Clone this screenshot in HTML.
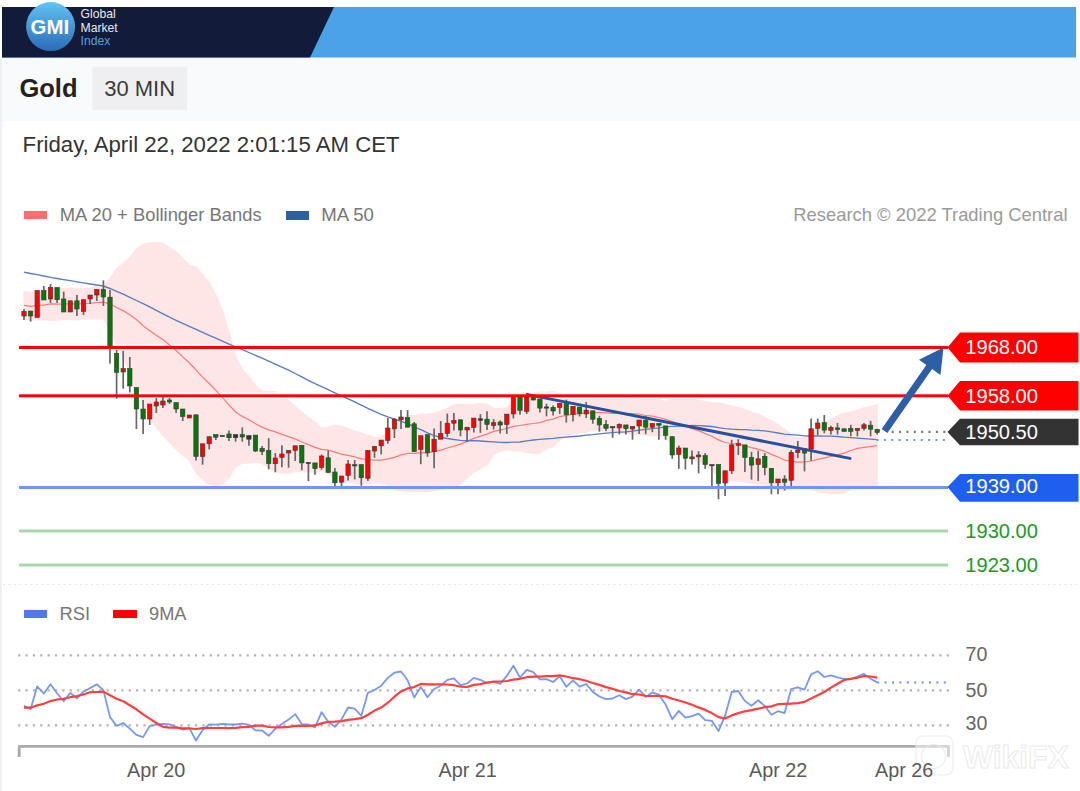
<!DOCTYPE html>
<html><head><meta charset="utf-8">
<style>
*{margin:0;padding:0;box-sizing:border-box}
html,body{width:1080px;height:791px;overflow:hidden;background:#fff;font-family:"Liberation Sans",sans-serif}
.a{position:absolute;white-space:nowrap;line-height:1}
</style></head><body>
<div class="a" style="left:0;top:58px;width:1080px;height:63px;background:#f9fafb"></div>
<div class="a" style="left:0;top:58px;width:1.5px;height:733px;background:#f0f1f5"></div>
<svg class="a" style="left:0;top:0" width="1080" height="791" viewBox="0 0 1080 791">
<defs><linearGradient id="lg" x1="0" y1="0" x2="0" y2="1"><stop offset="0" stop-color="#62c3f2"/><stop offset="1" stop-color="#2b6cb9"/></linearGradient></defs>
<rect x="2" y="7" width="1074" height="50.5" fill="#4aa3e6"/>
<polygon points="2,7 334,7 310,57.5 2,57.5" fill="#121b3a"/>
<circle cx="50.6" cy="26.6" r="24.5" fill="url(#lg)"/>
<text x="49.8" y="33.8" font-family="Liberation Sans" font-weight="bold" font-size="20.4" fill="#fff" text-anchor="middle">GMI</text>
<text x="80.5" y="18" font-family="Liberation Sans" font-size="12.2" fill="#e6e8ee">Global</text>
<text x="80.5" y="31.8" font-family="Liberation Sans" font-size="12.2" fill="#e6e8ee">Market</text>
<text x="80.5" y="45.3" font-family="Liberation Sans" font-size="12.2" fill="#4aa3e6">Index</text>
<rect x="92.3" y="66.8" width="94.9" height="43.3" fill="#efeff1"/>
<path d="M24.0,291.5 L30.6,292.4 L37.2,290.2 L43.8,290.2 L50.5,287.5 L57.1,288.3 L63.7,288.5 L70.3,288.2 L76.9,288.5 L83.5,288.3 L90.1,288.0 L96.8,286.1 L103.4,285.7 L110.0,278.7 L116.6,268.7 L123.2,263.5 L129.8,257.5 L136.4,249.2 L143.1,244.1 L149.7,242.9 L156.3,242.7 L162.9,243.1 L169.5,247.8 L176.1,251.7 L182.7,258.6 L189.3,265.0 L196.0,267.0 L202.6,274.5 L209.2,282.8 L215.8,294.8 L222.4,310.6 L229.0,332.0 L235.6,357.1 L242.3,369.4 L248.9,376.4 L255.5,385.4 L262.1,391.0 L268.7,391.4 L275.3,391.9 L281.9,395.4 L288.6,400.2 L295.2,406.2 L301.8,412.3 L308.4,417.8 L315.0,421.8 L321.6,428.4 L328.2,427.0 L334.9,425.2 L341.5,426.2 L348.1,428.4 L354.7,431.0 L361.3,433.0 L367.9,435.2 L374.5,437.1 L381.2,437.3 L387.8,432.4 L394.4,425.8 L401.0,419.1 L407.6,415.6 L414.2,415.5 L420.8,414.0 L427.5,414.4 L434.1,413.1 L440.7,411.2 L447.3,408.2 L453.9,404.9 L460.5,404.0 L467.1,404.8 L473.8,404.3 L480.4,403.4 L487.0,404.0 L493.6,408.4 L500.2,408.8 L506.8,407.4 L513.4,402.0 L520.0,400.2 L526.7,396.3 L533.3,393.7 L539.9,392.0 L546.5,392.3 L553.1,391.7 L559.7,393.2 L566.3,394.4 L573.0,394.4 L579.6,394.4 L586.2,394.0 L592.8,394.9 L599.4,395.1 L606.0,394.4 L612.6,394.0 L619.3,394.0 L625.9,393.5 L632.5,393.4 L639.1,393.5 L645.7,395.8 L652.3,396.3 L658.9,399.3 L665.6,401.4 L672.2,398.6 L678.8,398.8 L685.4,397.7 L692.0,399.4 L698.6,400.0 L705.2,401.7 L711.9,402.8 L718.5,402.9 L725.1,404.4 L731.7,406.2 L738.3,407.7 L744.9,409.6 L751.5,412.0 L758.2,414.3 L764.8,417.2 L771.4,420.9 L778.0,424.3 L784.6,429.3 L791.2,434.8 L797.8,437.8 L804.5,437.5 L811.1,433.2 L817.7,426.9 L824.3,423.1 L830.9,419.3 L837.5,416.0 L844.1,413.3 L850.8,412.2 L857.4,410.1 L864.0,407.8 L870.6,406.3 L877.2,404.9 L877.2,485.9 L870.6,487.0 L864.0,486.9 L857.4,486.6 L850.8,488.8 L844.1,492.9 L837.5,493.6 L830.9,493.8 L824.3,492.7 L817.7,491.7 L811.1,488.8 L804.5,486.4 L797.8,486.4 L791.2,487.8 L784.6,490.6 L778.0,489.8 L771.4,488.0 L764.8,485.4 L758.2,484.2 L751.5,483.5 L744.9,481.9 L738.3,480.8 L731.7,480.7 L725.1,480.5 L718.5,476.9 L711.9,469.6 L705.2,465.5 L698.6,461.4 L692.0,458.0 L685.4,454.3 L678.8,448.4 L672.2,444.7 L665.6,437.2 L658.9,435.7 L652.3,436.0 L645.7,435.2 L639.1,434.4 L632.5,433.9 L625.9,433.7 L619.3,432.7 L612.6,432.6 L606.0,431.5 L599.4,429.7 L592.8,430.2 L586.2,432.1 L579.6,432.9 L573.0,433.8 L566.3,436.5 L559.7,440.1 L553.1,446.6 L546.5,448.4 L539.9,453.1 L533.3,453.4 L526.7,452.4 L520.0,450.8 L513.4,450.7 L506.8,449.6 L500.2,451.5 L493.6,454.3 L487.0,464.3 L480.4,469.0 L473.8,472.4 L467.1,477.7 L460.5,484.1 L453.9,487.5 L447.3,487.7 L440.7,489.2 L434.1,490.3 L427.5,491.4 L420.8,491.2 L414.2,491.1 L407.6,491.2 L401.0,490.8 L394.4,488.8 L387.8,485.4 L381.2,482.8 L374.5,482.9 L367.9,483.9 L361.3,484.8 L354.7,482.8 L348.1,482.5 L341.5,482.0 L334.9,479.1 L328.2,473.3 L321.6,470.4 L315.0,472.8 L308.4,471.6 L301.8,471.6 L295.2,471.7 L288.6,473.2 L281.9,473.2 L275.3,471.7 L268.7,468.2 L262.1,463.2 L255.5,462.3 L248.9,463.0 L242.3,463.3 L235.6,466.6 L229.0,477.7 L222.4,484.2 L215.8,485.9 L209.2,484.2 L202.6,479.7 L196.0,472.9 L189.3,460.5 L182.7,455.3 L176.1,449.3 L169.5,442.3 L162.9,435.8 L156.3,427.8 L149.7,418.5 L143.1,407.4 L136.4,390.0 L129.8,371.9 L123.2,357.6 L116.6,346.3 L110.0,328.9 L103.4,318.8 L96.8,318.9 L90.1,318.8 L83.5,318.7 L76.9,319.9 L70.3,319.3 L63.7,319.6 L57.1,320.1 L50.5,320.3 L43.8,320.0 L37.2,320.0 L30.6,320.1 L24.0,319.0 Z" fill="#ffe6e6" stroke="#ffe6e6" stroke-width="1.2" stroke-linejoin="round"/>
<rect x="19" y="344.3" width="929" height="6.4" fill="#fff"/>
<rect x="19" y="392.6" width="929" height="6.4" fill="#fff"/>
<path d="M24.0,305.3 L30.6,306.3 L37.2,305.1 L43.8,305.1 L50.5,303.9 L57.1,304.2 L63.7,304.0 L70.3,303.8 L76.9,304.2 L83.5,303.5 L90.1,303.4 L96.8,302.5 L103.4,302.2 L110.0,303.8 L116.6,307.5 L123.2,310.6 L129.8,314.7 L136.4,319.6 L143.1,325.8 L149.7,330.7 L156.3,335.2 L162.9,339.5 L169.5,345.1 L176.1,350.5 L182.7,356.9 L189.3,362.7 L196.0,369.9 L202.6,377.1 L209.2,383.5 L215.8,390.4 L222.4,397.4 L229.0,404.8 L235.6,411.9 L242.3,416.4 L248.9,419.7 L255.5,423.8 L262.1,427.1 L268.7,429.8 L275.3,431.8 L281.9,434.3 L288.6,436.7 L295.2,438.9 L301.8,442.0 L308.4,444.7 L315.0,447.3 L321.6,449.4 L328.2,450.2 L334.9,452.1 L341.5,454.1 L348.1,455.4 L354.7,456.9 L361.3,458.9 L367.9,459.5 L374.5,460.0 L381.2,460.0 L387.8,458.9 L394.4,457.3 L401.0,454.9 L407.6,453.4 L414.2,453.3 L420.8,452.6 L427.5,452.9 L434.1,451.7 L440.7,450.2 L447.3,448.0 L453.9,446.2 L460.5,444.1 L467.1,441.3 L473.8,438.4 L480.4,436.2 L487.0,434.1 L493.6,431.4 L500.2,430.1 L506.8,428.5 L513.4,426.4 L520.0,425.5 L526.7,424.4 L533.3,423.5 L539.9,422.6 L546.5,420.4 L553.1,419.1 L559.7,416.7 L566.3,415.5 L573.0,414.1 L579.6,413.6 L586.2,413.1 L592.8,412.6 L599.4,412.4 L606.0,412.9 L612.6,413.3 L619.3,413.3 L625.9,413.6 L632.5,413.7 L639.1,414.0 L645.7,415.5 L652.3,416.1 L658.9,417.5 L665.6,419.3 L672.2,421.6 L678.8,423.6 L685.4,426.0 L692.0,428.7 L698.6,430.7 L705.2,433.6 L711.9,436.2 L718.5,439.9 L725.1,442.5 L731.7,443.5 L738.3,444.2 L744.9,445.7 L751.5,447.7 L758.2,449.2 L764.8,451.3 L771.4,454.4 L778.0,457.0 L784.6,460.0 L791.2,461.3 L797.8,462.1 L804.5,462.0 L811.1,461.0 L817.7,459.3 L824.3,457.9 L830.9,456.5 L837.5,454.8 L844.1,453.1 L850.8,450.5 L857.4,448.4 L864.0,447.3 L870.6,446.6 L877.2,445.4" fill="none" stroke="#ff7a7a" stroke-width="1.25"/>
<path d="M24.0,272.2 L30.6,273.5 L37.2,274.7 L43.8,276.0 L50.5,277.3 L57.1,278.5 L63.7,279.6 L70.3,280.7 L76.9,281.8 L83.5,282.9 L90.1,284.0 L96.8,285.0 L103.4,286.0 L110.0,288.5 L116.6,291.4 L123.2,294.2 L129.8,297.3 L136.4,300.5 L143.1,303.7 L149.7,306.8 L156.3,310.3 L162.9,313.8 L169.5,317.2 L176.1,320.3 L182.7,323.3 L189.3,326.3 L196.0,329.4 L202.6,332.3 L209.2,335.3 L215.8,338.2 L222.4,341.1 L229.0,344.1 L235.6,346.9 L242.3,349.7 L248.9,352.5 L255.5,355.3 L262.1,358.2 L268.7,361.2 L275.3,364.2 L281.9,367.2 L288.6,370.2 L295.2,373.5 L301.8,376.9 L308.4,380.3 L315.0,383.6 L321.6,386.7 L328.2,389.7 L334.9,392.8 L341.5,395.8 L348.1,398.8 L354.7,401.9 L361.3,405.2 L367.9,408.4 L374.5,411.3 L381.2,414.3 L387.8,416.9 L394.4,419.1 L401.0,421.4 L407.6,423.7 L414.2,426.8 L420.8,429.6 L427.5,432.9 L434.1,435.7 L440.7,437.4 L447.3,438.5 L453.9,439.5 L460.5,440.4 L467.1,440.7 L473.8,440.7 L480.4,441.0 L487.0,441.5 L493.6,441.9 L500.2,442.4 L506.8,442.5 L513.4,442.1 L520.0,442.0 L526.7,440.8 L533.3,440.0 L539.9,439.4 L546.5,438.8 L553.1,438.3 L559.7,437.6 L566.3,437.1 L573.0,436.5 L579.6,436.0 L586.2,435.2 L592.8,434.6 L599.4,433.8 L606.0,433.2 L612.6,432.7 L619.3,432.1 L625.9,431.8 L632.5,431.1 L639.1,430.2 L645.7,429.4 L652.3,428.7 L658.9,427.8 L665.6,426.8 L672.2,426.4 L678.8,426.1 L685.4,425.9 L692.0,425.5 L698.6,425.6 L705.2,426.0 L711.9,426.5 L718.5,427.6 L725.1,428.6 L731.7,429.2 L738.3,429.5 L744.9,429.6 L751.5,430.2 L758.2,430.3 L764.8,430.9 L771.4,431.9 L778.0,433.0 L784.6,434.2 L791.2,434.7 L797.8,435.1 L804.5,435.8 L811.1,436.0 L817.7,436.0 L824.3,436.1 L830.9,436.2 L837.5,436.5 L844.1,437.2 L850.8,437.6 L857.4,438.2 L864.0,438.7 L870.6,439.1 L877.2,439.6" fill="none" stroke="#5a7cc0" stroke-width="1.35"/>
<line x1="24.0" y1="308.9" x2="24.0" y2="320.0" stroke="#666" stroke-width="1.7"/>
<rect x="21.8" y="311.4" width="4.4" height="4.6" fill="#ff0000" stroke="#3a3a3a" stroke-width="0.6"/>
<line x1="30.6" y1="311.0" x2="30.6" y2="321.6" stroke="#666" stroke-width="1.7"/>
<rect x="28.4" y="311.0" width="4.4" height="5.0" fill="#0a760a" stroke="#3a3a3a" stroke-width="0.6"/>
<line x1="37.2" y1="290.6" x2="37.2" y2="317.5" stroke="#666" stroke-width="1.7"/>
<rect x="35.0" y="290.6" width="4.4" height="26.9" fill="#ff0000" stroke="#3a3a3a" stroke-width="0.6"/>
<line x1="43.8" y1="286.0" x2="43.8" y2="300.0" stroke="#666" stroke-width="1.7"/>
<rect x="41.6" y="290.6" width="4.4" height="9.4" fill="#0a760a" stroke="#3a3a3a" stroke-width="0.6"/>
<line x1="50.5" y1="284.0" x2="50.5" y2="303.0" stroke="#666" stroke-width="1.7"/>
<rect x="48.3" y="287.5" width="4.4" height="11.5" fill="#ff0000" stroke="#3a3a3a" stroke-width="0.6"/>
<line x1="57.1" y1="287.5" x2="57.1" y2="303.0" stroke="#666" stroke-width="1.7"/>
<rect x="54.9" y="287.5" width="4.4" height="12.2" fill="#0a760a" stroke="#3a3a3a" stroke-width="0.6"/>
<line x1="63.7" y1="291.6" x2="63.7" y2="312.0" stroke="#666" stroke-width="1.7"/>
<rect x="61.5" y="299.0" width="4.4" height="13.0" fill="#0a760a" stroke="#3a3a3a" stroke-width="0.6"/>
<line x1="70.3" y1="300.8" x2="70.3" y2="312.0" stroke="#666" stroke-width="1.7"/>
<rect x="68.1" y="300.8" width="4.4" height="11.2" fill="#ff0000" stroke="#3a3a3a" stroke-width="0.6"/>
<line x1="76.9" y1="295.0" x2="76.9" y2="316.0" stroke="#666" stroke-width="1.7"/>
<rect x="74.7" y="300.8" width="4.4" height="8.2" fill="#0a760a" stroke="#3a3a3a" stroke-width="0.6"/>
<line x1="83.5" y1="299.7" x2="83.5" y2="315.0" stroke="#666" stroke-width="1.7"/>
<rect x="81.3" y="299.7" width="4.4" height="11.7" fill="#ff0000" stroke="#3a3a3a" stroke-width="0.6"/>
<line x1="90.1" y1="295.0" x2="90.1" y2="304.0" stroke="#666" stroke-width="1.7"/>
<rect x="87.9" y="295.0" width="4.4" height="4.0" fill="#ff0000" stroke="#3a3a3a" stroke-width="0.6"/>
<line x1="96.8" y1="289.5" x2="96.8" y2="301.0" stroke="#666" stroke-width="1.7"/>
<rect x="94.6" y="289.5" width="4.4" height="5.5" fill="#ff0000" stroke="#3a3a3a" stroke-width="0.6"/>
<line x1="103.4" y1="280.4" x2="103.4" y2="306.0" stroke="#666" stroke-width="1.7"/>
<rect x="101.2" y="289.5" width="4.4" height="7.5" fill="#0a760a" stroke="#3a3a3a" stroke-width="0.6"/>
<line x1="110.0" y1="290.0" x2="110.0" y2="363.4" stroke="#666" stroke-width="1.7"/>
<rect x="107.8" y="297.2" width="4.4" height="49.8" fill="#0a760a" stroke="#3a3a3a" stroke-width="0.6"/>
<line x1="116.6" y1="350.0" x2="116.6" y2="398.8" stroke="#666" stroke-width="1.7"/>
<rect x="114.4" y="353.3" width="4.4" height="19.0" fill="#0a760a" stroke="#3a3a3a" stroke-width="0.6"/>
<line x1="123.2" y1="350.8" x2="123.2" y2="388.7" stroke="#666" stroke-width="1.7"/>
<rect x="121.0" y="368.5" width="4.4" height="3.5" fill="#ff0000" stroke="#3a3a3a" stroke-width="0.6"/>
<line x1="129.8" y1="357.0" x2="129.8" y2="392.5" stroke="#666" stroke-width="1.7"/>
<rect x="127.6" y="368.5" width="4.4" height="17.5" fill="#0a760a" stroke="#3a3a3a" stroke-width="0.6"/>
<line x1="136.4" y1="387.5" x2="136.4" y2="429.0" stroke="#666" stroke-width="1.7"/>
<rect x="134.2" y="387.5" width="4.4" height="21.5" fill="#0a760a" stroke="#3a3a3a" stroke-width="0.6"/>
<line x1="143.1" y1="400.0" x2="143.1" y2="434.0" stroke="#666" stroke-width="1.7"/>
<rect x="140.9" y="409.0" width="4.4" height="10.0" fill="#0a760a" stroke="#3a3a3a" stroke-width="0.6"/>
<line x1="149.7" y1="404.0" x2="149.7" y2="425.0" stroke="#666" stroke-width="1.7"/>
<rect x="147.5" y="404.0" width="4.4" height="15.0" fill="#ff0000" stroke="#3a3a3a" stroke-width="0.6"/>
<line x1="156.3" y1="398.0" x2="156.3" y2="413.0" stroke="#666" stroke-width="1.7"/>
<rect x="154.1" y="402.0" width="4.4" height="4.0" fill="#ff0000" stroke="#3a3a3a" stroke-width="0.6"/>
<line x1="162.9" y1="397.0" x2="162.9" y2="408.0" stroke="#666" stroke-width="1.7"/>
<rect x="160.7" y="401.0" width="4.4" height="4.0" fill="#ff0000" stroke="#3a3a3a" stroke-width="0.6"/>
<line x1="169.5" y1="398.0" x2="169.5" y2="404.0" stroke="#666" stroke-width="1.7"/>
<rect x="167.3" y="400.0" width="4.4" height="2.0" fill="#0a760a" stroke="#3a3a3a" stroke-width="0.6"/>
<line x1="176.1" y1="402.6" x2="176.1" y2="413.0" stroke="#666" stroke-width="1.7"/>
<rect x="173.9" y="402.6" width="4.4" height="6.4" fill="#0a760a" stroke="#3a3a3a" stroke-width="0.6"/>
<line x1="182.7" y1="409.0" x2="182.7" y2="421.0" stroke="#666" stroke-width="1.7"/>
<rect x="180.5" y="409.0" width="4.4" height="7.5" fill="#0a760a" stroke="#3a3a3a" stroke-width="0.6"/>
<line x1="189.3" y1="415.0" x2="189.3" y2="418.0" stroke="#666" stroke-width="1.7"/>
<rect x="187.2" y="415.0" width="4.4" height="3.0" fill="#ff0000" stroke="#3a3a3a" stroke-width="0.6"/>
<line x1="196.0" y1="414.8" x2="196.0" y2="460.6" stroke="#666" stroke-width="1.7"/>
<rect x="193.8" y="414.8" width="4.4" height="41.7" fill="#0a760a" stroke="#3a3a3a" stroke-width="0.6"/>
<line x1="202.6" y1="443.8" x2="202.6" y2="464.7" stroke="#666" stroke-width="1.7"/>
<rect x="200.4" y="443.8" width="4.4" height="12.7" fill="#ff0000" stroke="#3a3a3a" stroke-width="0.6"/>
<line x1="209.2" y1="436.7" x2="209.2" y2="449.4" stroke="#666" stroke-width="1.7"/>
<rect x="207.0" y="436.7" width="4.4" height="7.1" fill="#ff0000" stroke="#3a3a3a" stroke-width="0.6"/>
<line x1="215.8" y1="434.6" x2="215.8" y2="440.0" stroke="#666" stroke-width="1.7"/>
<rect x="213.6" y="434.6" width="4.4" height="2.6" fill="#0a760a" stroke="#3a3a3a" stroke-width="0.6"/>
<line x1="222.4" y1="435.4" x2="222.4" y2="436.4" stroke="#666" stroke-width="1.7"/>
<rect x="220.2" y="435.4" width="4.4" height="1.2" fill="#333333" stroke="#3a3a3a" stroke-width="0.6"/>
<line x1="229.0" y1="430.4" x2="229.0" y2="441.0" stroke="#666" stroke-width="1.7"/>
<rect x="226.8" y="434.0" width="4.4" height="3.7" fill="#0a760a" stroke="#3a3a3a" stroke-width="0.6"/>
<line x1="235.6" y1="434.6" x2="235.6" y2="441.7" stroke="#666" stroke-width="1.7"/>
<rect x="233.4" y="434.6" width="4.4" height="3.1" fill="#333333" stroke="#3a3a3a" stroke-width="0.6"/>
<line x1="242.3" y1="427.3" x2="242.3" y2="441.7" stroke="#666" stroke-width="1.7"/>
<rect x="240.1" y="434.6" width="4.4" height="2.4" fill="#0a760a" stroke="#3a3a3a" stroke-width="0.6"/>
<line x1="248.9" y1="435.6" x2="248.9" y2="445.8" stroke="#666" stroke-width="1.7"/>
<rect x="246.7" y="435.6" width="4.4" height="3.6" fill="#333333" stroke="#3a3a3a" stroke-width="0.6"/>
<line x1="255.5" y1="435.1" x2="255.5" y2="452.0" stroke="#666" stroke-width="1.7"/>
<rect x="253.3" y="435.1" width="4.4" height="15.9" fill="#0a760a" stroke="#3a3a3a" stroke-width="0.6"/>
<line x1="262.1" y1="446.0" x2="262.1" y2="455.0" stroke="#666" stroke-width="1.7"/>
<rect x="259.9" y="448.4" width="4.4" height="3.0" fill="#0a760a" stroke="#3a3a3a" stroke-width="0.6"/>
<line x1="268.7" y1="438.2" x2="268.7" y2="469.3" stroke="#666" stroke-width="1.7"/>
<rect x="266.5" y="450.4" width="4.4" height="13.3" fill="#0a760a" stroke="#3a3a3a" stroke-width="0.6"/>
<line x1="275.3" y1="453.0" x2="275.3" y2="472.3" stroke="#666" stroke-width="1.7"/>
<rect x="273.1" y="458.0" width="4.4" height="5.7" fill="#ff0000" stroke="#3a3a3a" stroke-width="0.6"/>
<line x1="281.9" y1="445.3" x2="281.9" y2="467.2" stroke="#666" stroke-width="1.7"/>
<rect x="279.7" y="454.0" width="4.4" height="3.5" fill="#ff0000" stroke="#3a3a3a" stroke-width="0.6"/>
<line x1="288.6" y1="450.4" x2="288.6" y2="467.7" stroke="#666" stroke-width="1.7"/>
<rect x="286.4" y="450.4" width="4.4" height="2.6" fill="#ff0000" stroke="#3a3a3a" stroke-width="0.6"/>
<line x1="295.2" y1="445.8" x2="295.2" y2="461.0" stroke="#666" stroke-width="1.7"/>
<rect x="293.0" y="445.8" width="4.4" height="4.6" fill="#ff0000" stroke="#3a3a3a" stroke-width="0.6"/>
<line x1="301.8" y1="445.3" x2="301.8" y2="470.3" stroke="#666" stroke-width="1.7"/>
<rect x="299.6" y="445.3" width="4.4" height="17.6" fill="#0a760a" stroke="#3a3a3a" stroke-width="0.6"/>
<line x1="308.4" y1="462.4" x2="308.4" y2="481.1" stroke="#666" stroke-width="1.7"/>
<rect x="306.2" y="462.4" width="4.4" height="1.2" fill="#333333" stroke="#3a3a3a" stroke-width="0.6"/>
<line x1="315.0" y1="462.9" x2="315.0" y2="474.8" stroke="#666" stroke-width="1.7"/>
<rect x="312.8" y="462.9" width="4.4" height="5.7" fill="#0a760a" stroke="#3a3a3a" stroke-width="0.6"/>
<line x1="321.6" y1="454.4" x2="321.6" y2="469.7" stroke="#666" stroke-width="1.7"/>
<rect x="319.4" y="456.0" width="4.4" height="11.5" fill="#ff0000" stroke="#3a3a3a" stroke-width="0.6"/>
<line x1="328.2" y1="450.4" x2="328.2" y2="472.6" stroke="#666" stroke-width="1.7"/>
<rect x="326.0" y="457.8" width="4.4" height="14.8" fill="#0a760a" stroke="#3a3a3a" stroke-width="0.6"/>
<line x1="334.9" y1="468.0" x2="334.9" y2="486.2" stroke="#666" stroke-width="1.7"/>
<rect x="332.7" y="472.0" width="4.4" height="10.8" fill="#0a760a" stroke="#3a3a3a" stroke-width="0.6"/>
<line x1="341.5" y1="476.0" x2="341.5" y2="488.5" stroke="#666" stroke-width="1.7"/>
<rect x="339.3" y="476.0" width="4.4" height="6.2" fill="#ff0000" stroke="#3a3a3a" stroke-width="0.6"/>
<line x1="348.1" y1="460.0" x2="348.1" y2="480.5" stroke="#666" stroke-width="1.7"/>
<rect x="345.9" y="464.0" width="4.4" height="11.4" fill="#ff0000" stroke="#3a3a3a" stroke-width="0.6"/>
<line x1="354.7" y1="460.0" x2="354.7" y2="479.4" stroke="#666" stroke-width="1.7"/>
<rect x="352.5" y="464.7" width="4.4" height="1.2" fill="#333333" stroke="#3a3a3a" stroke-width="0.6"/>
<line x1="361.3" y1="464.6" x2="361.3" y2="485.7" stroke="#666" stroke-width="1.7"/>
<rect x="359.1" y="464.6" width="4.4" height="13.1" fill="#0a760a" stroke="#3a3a3a" stroke-width="0.6"/>
<line x1="367.9" y1="450.4" x2="367.9" y2="481.0" stroke="#666" stroke-width="1.7"/>
<rect x="365.7" y="450.4" width="4.4" height="27.9" fill="#ff0000" stroke="#3a3a3a" stroke-width="0.6"/>
<line x1="374.5" y1="446.4" x2="374.5" y2="457.8" stroke="#666" stroke-width="1.7"/>
<rect x="372.3" y="446.4" width="4.4" height="4.6" fill="#ff0000" stroke="#3a3a3a" stroke-width="0.6"/>
<line x1="381.2" y1="440.1" x2="381.2" y2="454.4" stroke="#666" stroke-width="1.7"/>
<rect x="379.0" y="440.1" width="4.4" height="5.7" fill="#ff0000" stroke="#3a3a3a" stroke-width="0.6"/>
<line x1="387.8" y1="418.0" x2="387.8" y2="443.7" stroke="#666" stroke-width="1.7"/>
<rect x="385.6" y="428.0" width="4.4" height="12.5" fill="#ff0000" stroke="#3a3a3a" stroke-width="0.6"/>
<line x1="394.4" y1="418.0" x2="394.4" y2="438.0" stroke="#666" stroke-width="1.7"/>
<rect x="392.2" y="419.2" width="4.4" height="9.7" fill="#ff0000" stroke="#3a3a3a" stroke-width="0.6"/>
<line x1="401.0" y1="410.1" x2="401.0" y2="428.9" stroke="#666" stroke-width="1.7"/>
<rect x="398.8" y="417.0" width="4.4" height="2.8" fill="#ff0000" stroke="#3a3a3a" stroke-width="0.6"/>
<line x1="407.6" y1="410.1" x2="407.6" y2="427.2" stroke="#666" stroke-width="1.7"/>
<rect x="405.4" y="417.5" width="4.4" height="9.7" fill="#0a760a" stroke="#3a3a3a" stroke-width="0.6"/>
<line x1="414.2" y1="422.0" x2="414.2" y2="451.7" stroke="#666" stroke-width="1.7"/>
<rect x="412.0" y="423.8" width="4.4" height="27.9" fill="#0a760a" stroke="#3a3a3a" stroke-width="0.6"/>
<line x1="420.8" y1="435.7" x2="420.8" y2="464.2" stroke="#666" stroke-width="1.7"/>
<rect x="418.6" y="435.7" width="4.4" height="13.7" fill="#ff0000" stroke="#3a3a3a" stroke-width="0.6"/>
<line x1="427.5" y1="434.6" x2="427.5" y2="456.8" stroke="#666" stroke-width="1.7"/>
<rect x="425.3" y="434.6" width="4.4" height="18.2" fill="#0a760a" stroke="#3a3a3a" stroke-width="0.6"/>
<line x1="434.1" y1="428.4" x2="434.1" y2="468.2" stroke="#666" stroke-width="1.7"/>
<rect x="431.9" y="439.2" width="4.4" height="12.5" fill="#ff0000" stroke="#3a3a3a" stroke-width="0.6"/>
<line x1="440.7" y1="421.0" x2="440.7" y2="439.2" stroke="#666" stroke-width="1.7"/>
<rect x="438.5" y="433.5" width="4.4" height="5.7" fill="#ff0000" stroke="#3a3a3a" stroke-width="0.6"/>
<line x1="447.3" y1="413.6" x2="447.3" y2="436.9" stroke="#666" stroke-width="1.7"/>
<rect x="445.1" y="423.2" width="4.4" height="10.3" fill="#ff0000" stroke="#3a3a3a" stroke-width="0.6"/>
<line x1="453.9" y1="413.0" x2="453.9" y2="430.6" stroke="#666" stroke-width="1.7"/>
<rect x="451.7" y="420.4" width="4.4" height="2.8" fill="#ff0000" stroke="#3a3a3a" stroke-width="0.6"/>
<line x1="460.5" y1="419.8" x2="460.5" y2="436.3" stroke="#666" stroke-width="1.7"/>
<rect x="458.3" y="419.8" width="4.4" height="10.2" fill="#0a760a" stroke="#3a3a3a" stroke-width="0.6"/>
<line x1="467.1" y1="427.2" x2="467.1" y2="442.0" stroke="#666" stroke-width="1.7"/>
<rect x="464.9" y="427.2" width="4.4" height="2.8" fill="#ff0000" stroke="#3a3a3a" stroke-width="0.6"/>
<line x1="473.8" y1="418.1" x2="473.8" y2="432.6" stroke="#666" stroke-width="1.7"/>
<rect x="471.6" y="418.1" width="4.4" height="9.4" fill="#ff0000" stroke="#3a3a3a" stroke-width="0.6"/>
<line x1="480.4" y1="414.1" x2="480.4" y2="432.9" stroke="#666" stroke-width="1.7"/>
<rect x="478.2" y="418.7" width="4.4" height="1.7" fill="#333333" stroke="#3a3a3a" stroke-width="0.6"/>
<line x1="487.0" y1="411.3" x2="487.0" y2="430.0" stroke="#666" stroke-width="1.7"/>
<rect x="484.8" y="419.2" width="4.4" height="5.2" fill="#0a760a" stroke="#3a3a3a" stroke-width="0.6"/>
<line x1="493.6" y1="419.2" x2="493.6" y2="429.5" stroke="#666" stroke-width="1.7"/>
<rect x="491.4" y="422.7" width="4.4" height="2.8" fill="#ff0000" stroke="#3a3a3a" stroke-width="0.6"/>
<line x1="500.2" y1="420.4" x2="500.2" y2="433.5" stroke="#666" stroke-width="1.7"/>
<rect x="498.0" y="422.0" width="4.4" height="3.0" fill="#0a760a" stroke="#3a3a3a" stroke-width="0.6"/>
<line x1="506.8" y1="414.1" x2="506.8" y2="434.0" stroke="#666" stroke-width="1.7"/>
<rect x="504.6" y="414.1" width="4.4" height="10.3" fill="#ff0000" stroke="#3a3a3a" stroke-width="0.6"/>
<line x1="513.4" y1="396.0" x2="513.4" y2="418.5" stroke="#666" stroke-width="1.7"/>
<rect x="511.2" y="397.3" width="4.4" height="16.7" fill="#ff0000" stroke="#3a3a3a" stroke-width="0.6"/>
<line x1="520.0" y1="396.0" x2="520.0" y2="414.8" stroke="#666" stroke-width="1.7"/>
<rect x="517.8" y="397.0" width="4.4" height="13.4" fill="#0a760a" stroke="#3a3a3a" stroke-width="0.6"/>
<line x1="526.7" y1="393.0" x2="526.7" y2="414.0" stroke="#666" stroke-width="1.7"/>
<rect x="524.5" y="397.3" width="4.4" height="14.2" fill="#ff0000" stroke="#3a3a3a" stroke-width="0.6"/>
<line x1="533.3" y1="396.0" x2="533.3" y2="400.4" stroke="#666" stroke-width="1.7"/>
<rect x="531.1" y="397.0" width="4.4" height="3.0" fill="#0a760a" stroke="#3a3a3a" stroke-width="0.6"/>
<line x1="539.9" y1="398.9" x2="539.9" y2="412.6" stroke="#666" stroke-width="1.7"/>
<rect x="537.7" y="398.9" width="4.4" height="9.2" fill="#0a760a" stroke="#3a3a3a" stroke-width="0.6"/>
<line x1="546.5" y1="403.7" x2="546.5" y2="416.3" stroke="#666" stroke-width="1.7"/>
<rect x="544.3" y="406.9" width="4.4" height="1.2" fill="#333333" stroke="#3a3a3a" stroke-width="0.6"/>
<line x1="553.1" y1="405.6" x2="553.1" y2="415.6" stroke="#666" stroke-width="1.7"/>
<rect x="550.9" y="407.4" width="4.4" height="3.6" fill="#0a760a" stroke="#3a3a3a" stroke-width="0.6"/>
<line x1="559.7" y1="403.3" x2="559.7" y2="414.0" stroke="#666" stroke-width="1.7"/>
<rect x="557.5" y="403.3" width="4.4" height="4.1" fill="#ff0000" stroke="#3a3a3a" stroke-width="0.6"/>
<line x1="566.3" y1="399.6" x2="566.3" y2="422.6" stroke="#666" stroke-width="1.7"/>
<rect x="564.1" y="403.7" width="4.4" height="11.1" fill="#0a760a" stroke="#3a3a3a" stroke-width="0.6"/>
<line x1="573.0" y1="406.3" x2="573.0" y2="421.5" stroke="#666" stroke-width="1.7"/>
<rect x="570.8" y="406.3" width="4.4" height="8.2" fill="#ff0000" stroke="#3a3a3a" stroke-width="0.6"/>
<line x1="579.6" y1="407.0" x2="579.6" y2="416.5" stroke="#666" stroke-width="1.7"/>
<rect x="577.4" y="407.0" width="4.4" height="6.5" fill="#0a760a" stroke="#3a3a3a" stroke-width="0.6"/>
<line x1="586.2" y1="402.1" x2="586.2" y2="418.0" stroke="#666" stroke-width="1.7"/>
<rect x="584.0" y="410.1" width="4.4" height="3.8" fill="#ff0000" stroke="#3a3a3a" stroke-width="0.6"/>
<line x1="592.8" y1="410.8" x2="592.8" y2="423.7" stroke="#666" stroke-width="1.7"/>
<rect x="590.6" y="410.8" width="4.4" height="8.4" fill="#0a760a" stroke="#3a3a3a" stroke-width="0.6"/>
<line x1="599.4" y1="415.8" x2="599.4" y2="431.7" stroke="#666" stroke-width="1.7"/>
<rect x="597.2" y="418.4" width="4.4" height="6.5" fill="#0a760a" stroke="#3a3a3a" stroke-width="0.6"/>
<line x1="606.0" y1="420.0" x2="606.0" y2="431.0" stroke="#666" stroke-width="1.7"/>
<rect x="603.8" y="424.5" width="4.4" height="3.8" fill="#0a760a" stroke="#3a3a3a" stroke-width="0.6"/>
<line x1="612.6" y1="426.6" x2="612.6" y2="437.8" stroke="#666" stroke-width="1.7"/>
<rect x="610.4" y="426.6" width="4.4" height="1.2" fill="#333333" stroke="#3a3a3a" stroke-width="0.6"/>
<line x1="619.3" y1="423.4" x2="619.3" y2="434.4" stroke="#666" stroke-width="1.7"/>
<rect x="617.1" y="424.5" width="4.4" height="3.4" fill="#ff0000" stroke="#3a3a3a" stroke-width="0.6"/>
<line x1="625.9" y1="424.9" x2="625.9" y2="434.4" stroke="#666" stroke-width="1.7"/>
<rect x="623.7" y="424.9" width="4.4" height="3.8" fill="#0a760a" stroke="#3a3a3a" stroke-width="0.6"/>
<line x1="632.5" y1="426.4" x2="632.5" y2="439.7" stroke="#666" stroke-width="1.7"/>
<rect x="630.3" y="426.4" width="4.4" height="2.6" fill="#ff0000" stroke="#3a3a3a" stroke-width="0.6"/>
<line x1="639.1" y1="420.0" x2="639.1" y2="434.0" stroke="#666" stroke-width="1.7"/>
<rect x="636.9" y="420.0" width="4.4" height="6.0" fill="#ff0000" stroke="#3a3a3a" stroke-width="0.6"/>
<line x1="645.7" y1="415.8" x2="645.7" y2="434.2" stroke="#666" stroke-width="1.7"/>
<rect x="643.5" y="420.2" width="4.4" height="7.0" fill="#0a760a" stroke="#3a3a3a" stroke-width="0.6"/>
<line x1="652.3" y1="423.4" x2="652.3" y2="432.2" stroke="#666" stroke-width="1.7"/>
<rect x="650.1" y="423.4" width="4.4" height="3.8" fill="#ff0000" stroke="#3a3a3a" stroke-width="0.6"/>
<line x1="658.9" y1="423.4" x2="658.9" y2="439.8" stroke="#666" stroke-width="1.7"/>
<rect x="656.7" y="423.4" width="4.4" height="1.9" fill="#0a760a" stroke="#3a3a3a" stroke-width="0.6"/>
<line x1="665.6" y1="425.9" x2="665.6" y2="439.8" stroke="#666" stroke-width="1.7"/>
<rect x="663.4" y="425.9" width="4.4" height="9.5" fill="#0a760a" stroke="#3a3a3a" stroke-width="0.6"/>
<line x1="672.2" y1="436.7" x2="672.2" y2="458.8" stroke="#666" stroke-width="1.7"/>
<rect x="670.0" y="436.7" width="4.4" height="18.3" fill="#0a760a" stroke="#3a3a3a" stroke-width="0.6"/>
<line x1="678.8" y1="445.5" x2="678.8" y2="468.9" stroke="#666" stroke-width="1.7"/>
<rect x="676.6" y="448.0" width="4.4" height="6.4" fill="#ff0000" stroke="#3a3a3a" stroke-width="0.6"/>
<line x1="685.4" y1="448.0" x2="685.4" y2="469.5" stroke="#666" stroke-width="1.7"/>
<rect x="683.2" y="448.0" width="4.4" height="10.2" fill="#0a760a" stroke="#3a3a3a" stroke-width="0.6"/>
<line x1="692.0" y1="450.6" x2="692.0" y2="464.5" stroke="#666" stroke-width="1.7"/>
<rect x="689.8" y="456.9" width="4.4" height="1.9" fill="#ff0000" stroke="#3a3a3a" stroke-width="0.6"/>
<line x1="698.6" y1="451.2" x2="698.6" y2="473.3" stroke="#666" stroke-width="1.7"/>
<rect x="696.4" y="455.0" width="4.4" height="1.9" fill="#ff0000" stroke="#3a3a3a" stroke-width="0.6"/>
<line x1="705.2" y1="453.1" x2="705.2" y2="468.9" stroke="#666" stroke-width="1.7"/>
<rect x="703.0" y="455.6" width="4.4" height="8.9" fill="#0a760a" stroke="#3a3a3a" stroke-width="0.6"/>
<line x1="711.9" y1="464.6" x2="711.9" y2="486.0" stroke="#666" stroke-width="1.7"/>
<rect x="709.7" y="464.6" width="4.4" height="1.2" fill="#333333" stroke="#3a3a3a" stroke-width="0.6"/>
<line x1="718.5" y1="464.5" x2="718.5" y2="499.2" stroke="#666" stroke-width="1.7"/>
<rect x="716.3" y="464.5" width="4.4" height="18.9" fill="#0a760a" stroke="#3a3a3a" stroke-width="0.6"/>
<line x1="725.1" y1="470.8" x2="725.1" y2="496.0" stroke="#666" stroke-width="1.7"/>
<rect x="722.9" y="470.8" width="4.4" height="12.2" fill="#ff0000" stroke="#3a3a3a" stroke-width="0.6"/>
<line x1="731.7" y1="439.8" x2="731.7" y2="474.0" stroke="#666" stroke-width="1.7"/>
<rect x="729.5" y="444.9" width="4.4" height="25.9" fill="#ff0000" stroke="#3a3a3a" stroke-width="0.6"/>
<line x1="738.3" y1="439.2" x2="738.3" y2="455.0" stroke="#666" stroke-width="1.7"/>
<rect x="736.1" y="443.6" width="4.4" height="1.9" fill="#ff0000" stroke="#3a3a3a" stroke-width="0.6"/>
<line x1="744.9" y1="444.9" x2="744.9" y2="472.0" stroke="#666" stroke-width="1.7"/>
<rect x="742.7" y="444.9" width="4.4" height="12.6" fill="#0a760a" stroke="#3a3a3a" stroke-width="0.6"/>
<line x1="751.5" y1="451.8" x2="751.5" y2="479.6" stroke="#666" stroke-width="1.7"/>
<rect x="749.3" y="457.5" width="4.4" height="7.6" fill="#0a760a" stroke="#3a3a3a" stroke-width="0.6"/>
<line x1="758.2" y1="450.6" x2="758.2" y2="480.9" stroke="#666" stroke-width="1.7"/>
<rect x="756.0" y="458.8" width="4.4" height="5.7" fill="#ff0000" stroke="#3a3a3a" stroke-width="0.6"/>
<line x1="764.8" y1="453.1" x2="764.8" y2="475.2" stroke="#666" stroke-width="1.7"/>
<rect x="762.6" y="456.3" width="4.4" height="11.3" fill="#0a760a" stroke="#3a3a3a" stroke-width="0.6"/>
<line x1="771.4" y1="468.3" x2="771.4" y2="494.2" stroke="#666" stroke-width="1.7"/>
<rect x="769.2" y="468.3" width="4.4" height="14.5" fill="#0a760a" stroke="#3a3a3a" stroke-width="0.6"/>
<line x1="778.0" y1="479.0" x2="778.0" y2="494.2" stroke="#666" stroke-width="1.7"/>
<rect x="775.8" y="479.0" width="4.4" height="3.8" fill="#ff0000" stroke="#3a3a3a" stroke-width="0.6"/>
<line x1="784.6" y1="475.2" x2="784.6" y2="490.4" stroke="#666" stroke-width="1.7"/>
<rect x="782.4" y="479.0" width="4.4" height="3.2" fill="#0a760a" stroke="#3a3a3a" stroke-width="0.6"/>
<line x1="791.2" y1="450.0" x2="791.2" y2="486.0" stroke="#666" stroke-width="1.7"/>
<rect x="789.0" y="452.5" width="4.4" height="27.8" fill="#ff0000" stroke="#3a3a3a" stroke-width="0.6"/>
<line x1="797.8" y1="441.0" x2="797.8" y2="458.2" stroke="#666" stroke-width="1.7"/>
<rect x="795.6" y="450.0" width="4.4" height="2.5" fill="#ff0000" stroke="#3a3a3a" stroke-width="0.6"/>
<line x1="804.5" y1="448.7" x2="804.5" y2="471.4" stroke="#666" stroke-width="1.7"/>
<rect x="802.3" y="448.7" width="4.4" height="4.4" fill="#0a760a" stroke="#3a3a3a" stroke-width="0.6"/>
<line x1="811.1" y1="418.6" x2="811.1" y2="461.0" stroke="#666" stroke-width="1.7"/>
<rect x="808.9" y="428.8" width="4.4" height="20.3" fill="#ff0000" stroke="#3a3a3a" stroke-width="0.6"/>
<line x1="817.7" y1="418.6" x2="817.7" y2="435.0" stroke="#666" stroke-width="1.7"/>
<rect x="815.5" y="423.0" width="4.4" height="5.3" fill="#ff0000" stroke="#3a3a3a" stroke-width="0.6"/>
<line x1="824.3" y1="415.0" x2="824.3" y2="433.2" stroke="#666" stroke-width="1.7"/>
<rect x="822.1" y="422.6" width="4.4" height="7.5" fill="#0a760a" stroke="#3a3a3a" stroke-width="0.6"/>
<line x1="830.9" y1="425.7" x2="830.9" y2="434.5" stroke="#666" stroke-width="1.7"/>
<rect x="828.7" y="427.4" width="4.4" height="3.1" fill="#ff0000" stroke="#3a3a3a" stroke-width="0.6"/>
<line x1="837.5" y1="423.0" x2="837.5" y2="434.5" stroke="#666" stroke-width="1.7"/>
<rect x="835.3" y="427.9" width="4.4" height="1.7" fill="#0a760a" stroke="#3a3a3a" stroke-width="0.6"/>
<line x1="844.1" y1="428.8" x2="844.1" y2="431.4" stroke="#666" stroke-width="1.7"/>
<rect x="841.9" y="428.8" width="4.4" height="2.6" fill="#0a760a" stroke="#3a3a3a" stroke-width="0.6"/>
<line x1="850.8" y1="424.8" x2="850.8" y2="436.3" stroke="#666" stroke-width="1.7"/>
<rect x="848.5" y="428.3" width="4.4" height="3.1" fill="#0a760a" stroke="#3a3a3a" stroke-width="0.6"/>
<line x1="857.4" y1="428.3" x2="857.4" y2="436.3" stroke="#666" stroke-width="1.7"/>
<rect x="855.2" y="428.3" width="4.4" height="2.2" fill="#ff0000" stroke="#3a3a3a" stroke-width="0.6"/>
<line x1="864.0" y1="423.0" x2="864.0" y2="430.5" stroke="#666" stroke-width="1.7"/>
<rect x="861.8" y="424.8" width="4.4" height="3.5" fill="#ff0000" stroke="#3a3a3a" stroke-width="0.6"/>
<line x1="870.6" y1="420.8" x2="870.6" y2="436.3" stroke="#666" stroke-width="1.7"/>
<rect x="868.4" y="425.2" width="4.4" height="4.0" fill="#0a760a" stroke="#3a3a3a" stroke-width="0.6"/>
<line x1="877.2" y1="428.8" x2="877.2" y2="434.5" stroke="#666" stroke-width="1.7"/>
<rect x="875.0" y="429.6" width="4.4" height="2.9" fill="#0a760a" stroke="#3a3a3a" stroke-width="0.6"/>
<line x1="528" y1="394.6" x2="850" y2="458.4" stroke="#27519c" stroke-width="3" stroke-linecap="round"/>
<rect x="19" y="346" width="929" height="3" fill="#ff0000"/>
<rect x="19" y="394.3" width="929" height="3" fill="#ff0000"/>
<rect x="19" y="486" width="929" height="3" fill="#6d96f5"/>
<rect x="19" y="529.5" width="929" height="3" fill="#a8d8a8"/>
<rect x="19" y="563.5" width="929" height="3" fill="#a8d8a8"/>
<line x1="891.7" y1="431.8" x2="947" y2="431.8" stroke="#777" stroke-width="2.2" stroke-dasharray="2,5.37"/>
<line x1="876.5" y1="440" x2="947" y2="440" stroke="#6d96f5" stroke-width="2.2" stroke-dasharray="2,5.37"/>
<line x1="884.5" y1="431" x2="932" y2="363" stroke="#2d5fa6" stroke-width="7"/>
<polygon points="943.5,347.5 919,359.7 940.5,375" fill="#2d5fa6"/>
<polygon points="947.5,347.5 960,332.6 1078.5,332.6 1078.5,362.4 960,362.4" fill="#ff0000"/>
<polygon points="947.5,395.8 960,381.1 1078.5,381.1 1078.5,410.6 960,410.6" fill="#ff0000"/>
<polygon points="947.5,432.0 960,418.8 1078.5,418.8 1078.5,445.3 960,445.3" fill="#333333"/>
<polygon points="947.5,487.0 960,473.9 1078.5,473.9 1078.5,501.8 960,501.8" fill="#1f5ff0"/>
<line x1="3" y1="584.5" x2="1079" y2="584.5" stroke="#e6e6e6" stroke-width="1.2" stroke-dasharray="2,3.5"/>
<line x1="18.1" y1="655.3" x2="949" y2="655.3" stroke="#b3b3b3" stroke-width="2.2" stroke-dasharray="2.2,5.17"/>
<line x1="18.1" y1="690.3" x2="949" y2="690.3" stroke="#b3b3b3" stroke-width="2.2" stroke-dasharray="2.2,5.17"/>
<line x1="18.1" y1="725.3" x2="949" y2="725.3" stroke="#b3b3b3" stroke-width="2.2" stroke-dasharray="2.2,5.17"/>
<path d="M24.0,705.9 L30.6,709.2 L37.2,686.3 L43.8,693.5 L50.5,684.3 L57.1,693.3 L63.7,701.3 L70.3,692.9 L76.9,698.3 L83.5,691.5 L90.1,688.1 L96.8,684.3 L103.4,690.1 L110.0,717.1 L116.6,725.8 L123.2,723.0 L129.8,728.6 L136.4,734.8 L143.1,737.1 L149.7,726.1 L156.3,724.7 L162.9,723.9 L169.5,724.3 L176.1,726.8 L182.7,729.5 L189.3,728.1 L196.0,740.5 L202.6,730.0 L209.2,724.5 L215.8,724.6 L222.4,723.9 L229.0,724.5 L235.6,724.5 L242.3,723.7 L248.9,724.8 L255.5,730.4 L262.1,730.5 L268.7,735.8 L275.3,728.8 L281.9,724.0 L288.6,719.6 L295.2,714.1 L301.8,724.2 L308.4,724.5 L315.0,727.3 L321.6,712.2 L328.2,721.8 L334.9,726.8 L341.5,719.4 L348.1,707.5 L354.7,708.6 L361.3,715.8 L367.9,692.8 L374.5,690.0 L381.2,685.7 L387.8,677.9 L394.4,672.7 L401.0,671.5 L407.6,680.3 L414.2,697.5 L420.8,687.0 L427.5,697.3 L434.1,689.0 L440.7,685.7 L447.3,679.9 L453.9,678.4 L460.5,685.2 L467.1,683.5 L473.8,677.9 L480.4,679.8 L487.0,683.0 L493.6,681.8 L500.2,683.9 L506.8,675.9 L513.4,665.7 L520.0,677.5 L526.7,669.9 L533.3,672.2 L539.9,679.3 L546.5,679.1 L553.1,682.0 L559.7,676.3 L566.3,686.8 L573.0,680.4 L579.6,686.7 L586.2,684.0 L592.8,691.9 L599.4,696.5 L606.0,699.2 L612.6,698.5 L619.3,695.3 L625.9,699.1 L632.5,696.6 L639.1,689.6 L645.7,696.9 L652.3,692.6 L658.9,694.7 L665.6,704.6 L672.2,719.2 L678.8,710.9 L685.4,717.6 L692.0,716.1 L698.6,713.7 L705.2,720.2 L711.9,720.9 L718.5,731.1 L725.1,715.7 L731.7,692.0 L738.3,691.0 L744.9,700.9 L751.5,705.8 L758.2,700.3 L764.8,706.0 L771.4,714.8 L778.0,711.2 L784.6,713.1 L791.2,689.0 L797.8,687.4 L804.5,689.6 L811.1,674.4 L817.7,671.3 L824.3,677.0 L830.9,675.4 L837.5,677.3 L844.1,679.0 L850.8,679.0 L857.4,676.6 L864.0,673.9 L870.6,678.8 L877.2,682.4" fill="none" stroke="#7898ea" stroke-width="1.8" stroke-linejoin="round"/>
<path d="M24.0,707.6 L30.6,707.7 L37.2,705.4 L43.8,703.8 L50.5,701.1 L57.1,699.5 L63.7,698.8 L70.3,697.2 L76.9,696.1 L83.5,694.5 L90.1,692.2 L96.8,692.0 L103.4,691.6 L110.0,695.2 L116.6,698.8 L123.2,701.3 L129.8,705.2 L136.4,709.3 L143.1,714.3 L149.7,718.6 L156.3,723.0 L162.9,726.8 L169.5,727.6 L176.1,727.7 L182.7,728.4 L189.3,728.4 L196.0,729.0 L202.6,728.2 L209.2,728.0 L215.8,728.0 L222.4,728.0 L229.0,728.1 L235.6,727.8 L242.3,727.1 L248.9,726.8 L255.5,725.7 L262.1,725.7 L268.7,727.0 L275.3,727.4 L281.9,727.4 L288.6,726.9 L295.2,725.8 L301.8,725.8 L308.4,725.8 L315.0,725.4 L321.6,723.4 L328.2,721.8 L334.9,721.6 L341.5,721.1 L348.1,719.8 L354.7,719.1 L361.3,718.2 L367.9,714.7 L374.5,710.6 L381.2,707.6 L387.8,702.7 L394.4,696.7 L401.0,691.4 L407.6,688.4 L414.2,687.1 L420.8,683.9 L427.5,684.4 L434.1,684.3 L440.7,684.3 L447.3,684.5 L453.9,685.2 L460.5,686.7 L467.1,687.0 L473.8,684.9 L480.4,684.1 L487.0,682.5 L493.6,681.7 L500.2,681.5 L506.8,681.0 L513.4,679.6 L520.0,678.8 L526.7,677.2 L533.3,676.6 L539.9,676.6 L546.5,676.1 L553.1,676.2 L559.7,675.3 L566.3,676.5 L573.0,678.2 L579.6,679.2 L586.2,680.8 L592.8,683.0 L599.4,684.9 L606.0,687.1 L612.6,688.9 L619.3,691.0 L625.9,692.4 L632.5,694.2 L639.1,694.5 L645.7,695.9 L652.3,696.0 L658.9,695.8 L665.6,696.4 L672.2,698.7 L678.8,700.5 L685.4,702.5 L692.0,704.7 L698.6,707.4 L705.2,709.9 L711.9,713.1 L718.5,717.1 L725.1,718.4 L731.7,715.4 L738.3,713.1 L744.9,711.3 L751.5,710.1 L758.2,708.7 L764.8,707.1 L771.4,706.4 L778.0,704.2 L784.6,703.9 L791.2,703.6 L797.8,703.2 L804.5,701.9 L811.1,698.4 L817.7,695.2 L824.3,692.0 L830.9,687.6 L837.5,683.8 L844.1,680.0 L850.8,678.9 L857.4,677.7 L864.0,676.0 L870.6,676.5 L877.2,677.7" fill="none" stroke="#ff4040" stroke-width="2.2" stroke-linejoin="round"/>
<line x1="877.2" y1="682.4" x2="947" y2="682.4" stroke="#6a8fe6" stroke-width="2" stroke-dasharray="2,5.4"/>
<path d="M19.2,757 L19.2,746.3 L948.5,746.3 L948.5,757" fill="none" stroke="#aaaaae" stroke-width="2.8" stroke-linejoin="round"/>
<g opacity="0.9"><rect x="916" y="736" width="37" height="39" rx="7" fill="#fff" fill-opacity="0.55" stroke="#ececec" stroke-width="1.2"/><circle cx="933.5" cy="756.5" r="12" fill="none" stroke="#ececec" stroke-width="1.2"/><text x="963" y="767.5" font-family="Liberation Sans" font-weight="bold" font-size="31.8" fill="#fff" fill-opacity="0.6" stroke="#e8e8e8" stroke-width="1">WikiFX</text></g>
</svg>
<div class="a" style="left:19.4px;top:76px;font-size:25.5px;font-weight:bold;color:#222">Gold</div>
<div class="a" style="left:104.2px;top:78.1px;font-size:22px;color:#3a3a3a">30 MIN</div>
<div class="a" style="left:22.6px;top:133.8px;font-size:22.2px;color:#333">Friday, April 22, 2022 2:01:15 AM CET</div>
<div class="a" style="left:24.2px;top:210.8px;width:22.5px;height:8.4px;background:#ff6e6e"></div>
<div class="a" style="left:59.8px;top:205.5px;font-size:18.4px;color:#777">MA 20 + Bollinger Bands</div>
<div class="a" style="left:286px;top:211px;width:23.3px;height:8.9px;background:#2d5fa6"></div>
<div class="a" style="left:321.2px;top:205.5px;font-size:18.6px;color:#777">MA 50</div>
<div class="a" style="left:793.3px;top:205.5px;font-size:18.4px;color:#9a9a9a">Research © 2022 Trading Central</div>
<div class="a" style="left:965.3px;top:337.2px;font-size:20.1px;color:#fff">1968.00</div>
<div class="a" style="left:965.3px;top:386.1px;font-size:20.1px;color:#fff">1958.00</div>
<div class="a" style="left:965.3px;top:421.8px;font-size:20.1px;color:#fff">1950.50</div>
<div class="a" style="left:965.3px;top:476px;font-size:20.1px;color:#fff">1939.00</div>
<div class="a" style="left:965.3px;top:520.8px;font-size:20.1px;color:#229922">1930.00</div>
<div class="a" style="left:965.3px;top:554.6px;font-size:20.1px;color:#229922">1923.00</div>
<div class="a" style="left:24.4px;top:609.8px;width:22.8px;height:8.5px;background:#5078e6"></div>
<div class="a" style="left:59.5px;top:605.3px;font-size:18.4px;color:#777">RSI</div>
<div class="a" style="left:113.1px;top:609.8px;width:23.6px;height:8.5px;background:#ff0000"></div>
<div class="a" style="left:149.1px;top:605.3px;font-size:18.2px;color:#777">9MA</div>
<div class="a" style="left:965.5px;top:645.4px;font-size:19.6px;color:#666">70</div>
<div class="a" style="left:965.5px;top:681px;font-size:19.6px;color:#666">50</div>
<div class="a" style="left:965.5px;top:714.4px;font-size:19.6px;color:#666">30</div>
<div class="a" style="left:127px;top:760.8px;font-size:19.8px;color:#5a5a5a">Apr 20</div>
<div class="a" style="left:438.5px;top:760.8px;font-size:19.8px;color:#5a5a5a">Apr 21</div>
<div class="a" style="left:749px;top:760.8px;font-size:19.8px;color:#5a5a5a">Apr 22</div>
<div class="a" style="left:875px;top:760.8px;font-size:19.8px;color:#5a5a5a">Apr 26</div>
</body></html>
